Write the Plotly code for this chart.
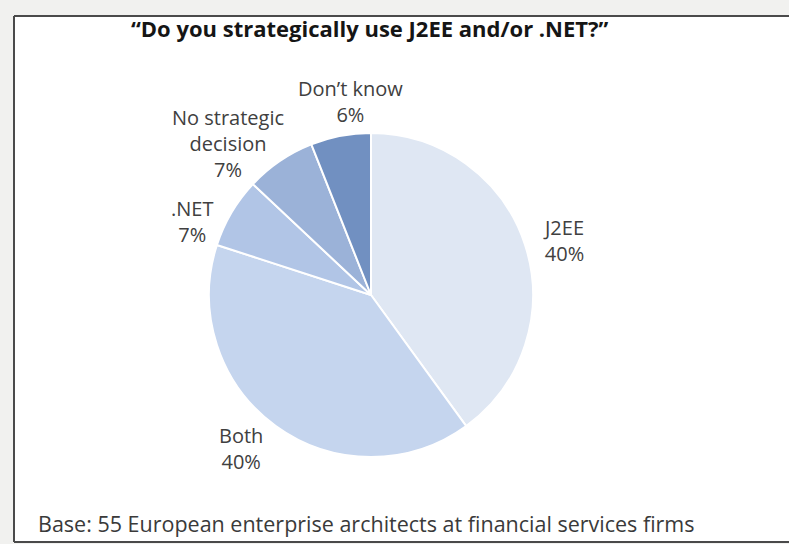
import plotly.graph_objects as go

labels = ["J2EE", "Both", ".NET", "No strategic<br>decision", "Don’t know"]
values = [40, 40, 7, 7, 6]
colors = ["#dfe7f3", "#c5d5ee", "#b1c5e6", "#9bb2d8", "#7190c1"]

title_text = "“Do you strategically use J2EE and/or .NET?”"
footer_text = "Base: 55 European enterprise architects at financial services firms"

# layout constants (pixels in the 789x544 page)
W, H = 789, 544
cx, cy, r = 371, 295, 162
label_xy = [(563, 240), (241, 448), (192, 221), (228, 143), (350, 101)]
bx0, by0, by1 = 14, 16, 542

fig = go.Figure(go.Pie(
    labels=labels,
    values=values,
    sort=False,
    direction="clockwise",
    rotation=0,
    marker=dict(colors=colors, line=dict(color="white", width=2)),
    textinfo="none",
    hoverinfo="label+percent",
    showlegend=False,
    domain=dict(x=[(cx - r) / W, (cx + r) / W],
                y=[(H - cy - r) / H, (H - cy + r) / H]),
))

annotations = [
    dict(text="<b>" + title_text + "</b>", xref="paper", yref="paper",
         x=370 / W, y=1 - 28 / H, xanchor="center", yanchor="middle",
         showarrow=False,
         font=dict(family="Open Sans", size=22, color="#151515")),
    dict(text=footer_text, xref="paper", yref="paper",
         x=36 / W, y=1 - 523 / H, xanchor="left", yanchor="middle",
         showarrow=False,
         font=dict(family="Open Sans", size=21.5, color="#3a3a3a")),
]
for lab, val, (lx, ly) in zip(labels, values, label_xy):
    annotations.append(dict(
        text=f"{lab}<br>{val}%", xref="paper", yref="paper",
        x=lx / W, y=1 - ly / H, xanchor="center", yanchor="middle",
        align="center", showarrow=False,
        font=dict(family="Open Sans", size=20, color="#404040")))

line_style = dict(color="#4a4a4a", width=2)
shapes = [
    dict(type="rect", xref="paper", yref="paper",
         x0=bx0 / W, x1=1.0, y0=1 - by1 / H, y1=1 - by0 / H,
         fillcolor="white", line=dict(width=0), layer="below"),
    dict(type="line", xref="paper", yref="paper", x0=bx0 / W, x1=1.0,
         y0=1 - by0 / H, y1=1 - by0 / H, line=line_style, layer="below"),
    dict(type="line", xref="paper", yref="paper", x0=bx0 / W, x1=1.0,
         y0=1 - by1 / H, y1=1 - by1 / H, line=line_style, layer="below"),
    dict(type="line", xref="paper", yref="paper", x0=bx0 / W, x1=bx0 / W,
         y0=1 - by1 / H, y1=1 - by0 / H, line=line_style, layer="below"),
]

fig.update_layout(
    width=W, height=H,
    margin=dict(l=0, r=0, t=0, b=0),
    paper_bgcolor="#f1f1ef",
    plot_bgcolor="white",
    shapes=shapes,
    annotations=annotations,
)

fig.write_html(
    "out.html",
    config={"displayModeBar": False},
    post_script="document.body.style.margin='0';document.body.style.overflow='hidden';",
)
